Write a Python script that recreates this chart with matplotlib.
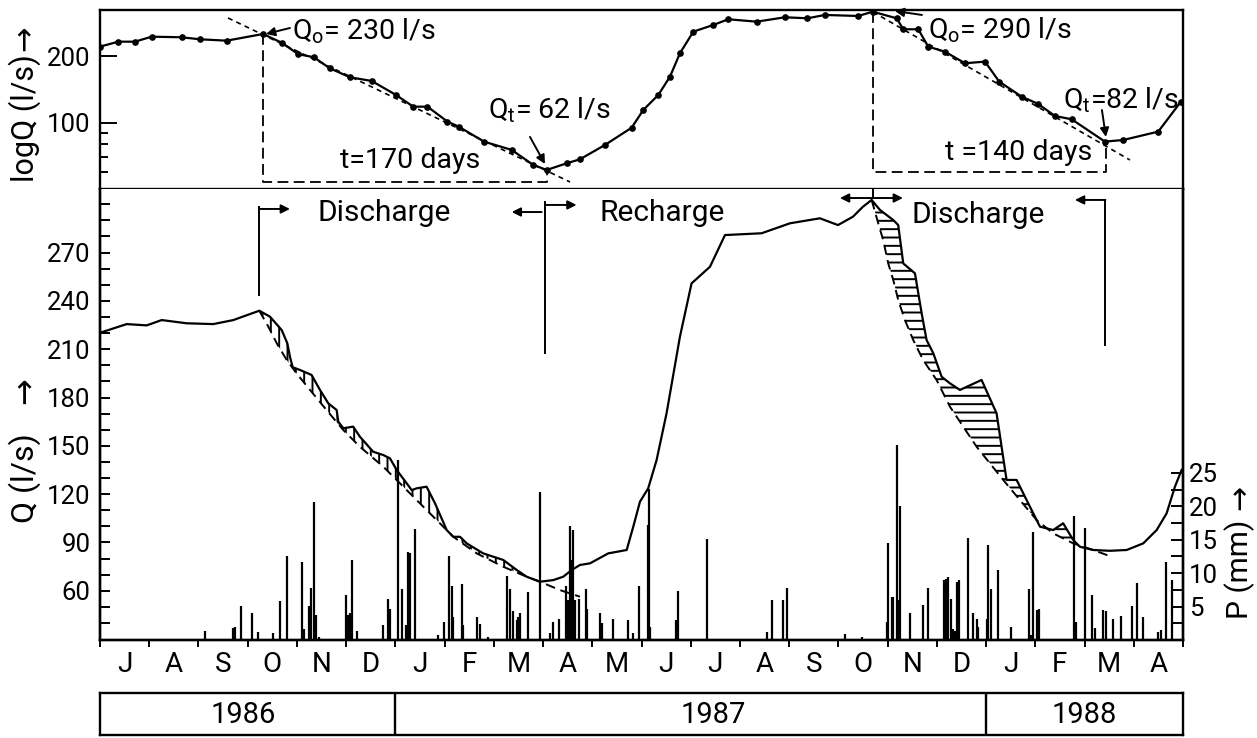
import numpy as np
import matplotlib
matplotlib.use("Agg")
import matplotlib.pyplot as plt
from matplotlib.ticker import FixedLocator, NullFormatter

plt.rcParams['font.family'] = ['Roboto', 'DejaVu Sans']
plt.rcParams['mathtext.fontset'] = 'custom'
plt.rcParams['mathtext.rm'] = 'Roboto'
plt.rcParams['mathtext.it'] = 'Roboto'
plt.rcParams['hatch.linewidth'] = 1.4

# ---------------- data (x = months since 1 July 1986) ----------------
month_labels = ['J', 'A', 'S', 'O', 'N', 'D', 'J', 'F', 'M', 'A', 'M',
                'J', 'J', 'A', 'S', 'O', 'N', 'D', 'J', 'F', 'M', 'A']
years = ['1986', '1987', '1988']
year_bounds = [6, 18]
year_label_pos = [2.9, 12.45, 20.0]

# discharge Q (l/s), linear panel
q_m = [0.000, 0.542, 0.949, 1.253, 1.761, 2.301, 2.708, 3.236, 3.453, 3.691,
       3.805, 3.859, 3.914, 4.063, 4.298, 4.469, 4.637, 4.808, 4.841, 4.942,
       5.143, 5.281, 5.550, 5.753, 5.891, 6.027, 6.230, 6.332, 6.433, 6.634,
       6.805, 7.043, 7.176, 7.313, 7.449, 7.784, 8.192, 8.464, 8.668, 8.938,
       9.206, 9.411, 9.582, 9.750, 9.953, 10.325, 10.699, 10.833, 10.969, 11.136,
       11.307, 11.509, 11.781, 12.017, 12.391, 12.696, 13.439, 14.016, 14.625, 14.991,
       15.296, 15.499, 15.675, 15.844, 16.114, 16.215, 16.317, 16.555, 16.691, 16.791,
       16.927, 17.097, 17.266, 17.469, 17.908, 18.213, 18.416, 18.620, 18.823, 19.094,
       19.364, 19.565, 19.770, 19.906, 20.176, 20.515, 20.855, 21.192, 21.465, 21.668,
       21.836, 21.972]
q_val = [220.2, 225.6, 224.8, 228.1, 226.1, 225.6, 228.1, 233.9, 230.2, 221.9,
         213.7, 205.3, 198.8, 197.1, 194.0, 184.7, 176.4, 172.2, 165.0, 160.9,
         161.9, 155.6, 146.3, 144.3, 142.2, 135.0, 126.7, 122.5, 123.6, 124.6,
         114.3, 97.7, 93.5, 93.5, 89.4, 83.2, 79.1, 72.9, 68.7, 65.6,
         66.6, 68.7, 72.9, 76.0, 77.0, 83.2, 85.3, 99.8, 115.3, 123.6,
         141.2, 170.2, 217.8, 250.9, 261.2, 280.9, 282.0, 288.2, 291.3, 287.1,
         292.3, 298.5, 302.7, 296.5, 290.2, 287.1, 263.3, 257.1, 232.3, 215.7,
         207.5, 192.9, 188.8, 184.7, 190.9, 170.2, 128.8, 128.8, 116.3, 99.8,
         97.7, 101.9, 91.5, 87.3, 85.3, 84.8, 85.3, 89.4, 97.7, 108.1,
         124.6, 135.0]

# recession curves (dashed) in the Q panel
rec1_m = [3.236, 3.419, 3.590, 3.793, 3.993, 4.266, 4.603, 4.942, 5.281, 5.755,
          6.094, 6.433, 6.839, 7.177, 7.652, 8.192, 8.665, 8.938, 9.344, 9.750]
rec1_q = [233.9, 224.0, 213.7, 203.3, 195.0, 184.7, 172.2, 159.8, 149.4, 137.0,
          126.7, 116.3, 103.9, 93.5, 83.2, 74.9, 68.7, 65.6, 60.4, 56.3]
rec2_m = [15.675, 15.809, 15.910, 16.012, 16.114, 16.215, 16.351, 16.520, 16.721, 16.994,
          17.266, 17.536, 17.808, 18.078, 18.348, 18.688, 19.027, 19.364, 19.770, 20.175,
          20.549]
rec2_q = [302.7, 288.2, 277.8, 263.3, 253.0, 240.6, 228.1, 215.7, 203.3, 190.9,
          174.3, 161.9, 149.4, 139.1, 128.8, 116.3, 103.9, 95.6, 89.4, 85.3,
          81.1]

# log Q panel (points with dots)
log_m = [0.000, 0.372, 0.711, 1.050, 1.660, 2.031, 2.574, 3.311, 3.691, 4.028,
         4.347, 4.666, 5.078, 5.519, 6.013, 6.364, 6.652, 7.059, 7.288, 7.800,
         8.363, 8.801, 9.074, 9.480, 9.750, 10.258, 10.800, 11.036, 11.341, 11.578,
         11.781, 12.052, 12.458, 12.763, 13.339, 13.914, 14.371, 14.727, 15.403, 15.696,
         16.183, 16.317, 16.622, 16.825, 17.164, 17.571, 17.977, 18.267, 18.722, 19.059,
         19.398, 19.738, 20.414, 20.786, 21.497, 21.957]
log_q = [220.7, 232.4, 232.4, 244.8, 243.2, 238.2, 234.8, 251.7, 229.9, 204.1,
         197.7, 176.4, 160.6, 154.6, 133.7, 118.4, 118.4, 101.4, 96.2, 82.4,
         75.6, 64.7, 61.4, 65.8, 68.6, 79.6, 95.2, 114.4, 133.7, 161.6,
         206.1, 257.8, 276.4, 293.2, 286.0, 299.3, 296.2, 306.6, 303.4, 317.2,
         296.2, 264.3, 264.3, 220.7, 209.5, 185.8, 188.9, 153.5, 131.4, 121.8,
         107.5, 103.9, 82.4, 83.8, 91.4, 124.7]

# daily precipitation P (mm)
p_m = [2.133, 2.696, 2.742, 2.858, 3.094, 3.216, 3.508, 3.656, 3.805, 4.095,
       4.144, 4.252, 4.280, 4.351, 4.380, 4.449, 4.997, 5.038, 5.078, 5.111,
       5.214, 5.755, 5.856, 5.891, 6.047, 6.126, 6.210, 6.260, 6.295, 6.398,
       6.872, 6.987, 7.089, 7.142, 7.176, 7.347, 7.380, 7.652, 7.719, 7.888,
       8.261, 8.328, 8.395, 8.463, 8.496, 8.531, 8.700, 8.938, 9.141, 9.194,
       9.328, 9.458, 9.510, 9.547, 9.580, 9.602, 9.650, 9.734, 9.864, 9.898,
       10.157, 10.190, 10.425, 10.717, 10.820, 10.953, 11.123, 11.156, 11.180, 11.700,
       11.733, 12.336, 13.541, 13.643, 13.879, 13.947, 15.133, 15.470, 15.992, 16.012,
       16.080, 16.110, 16.182, 16.215, 16.249, 16.453, 16.723, 16.825, 17.144, 17.176,
       17.217, 17.278, 17.320, 17.370, 17.413, 17.448, 17.625, 17.738, 17.807, 17.840,
       18.011, 18.042, 18.090, 18.247, 18.498, 18.877, 18.920, 18.955, 19.025, 19.078,
       19.784, 19.825, 20.008, 20.143, 20.211, 20.367, 20.430, 20.583, 20.733, 20.956,
       21.057, 21.179, 21.496, 21.560, 21.663, 21.785]
p_mm = [1.4, 1.8, 2.0, 5.1, 4.0, 1.2, 1.0, 5.8, 12.6, 11.7,
        1.6, 5.1, 7.8, 20.6, 3.7, 0.4, 6.7, 3.7, 4.0, 11.9,
        1.4, 2.2, 6.2, 4.7, 26.9, 7.7, 2.2, 13.1, 13.0, 16.6,
        0.7, 2.7, 12.6, 8.1, 3.5, 8.4, 2.2, 3.4, 2.4, 0.5,
        9.6, 7.6, 4.4, 3.0, 3.5, 4.0, 7.2, 22.1, 1.0, 2.7,
        3.1, 8.1, 6.0, 17.1, 12.0, 16.5, 6.0, 6.2, 7.7, 4.7,
        4.0, 2.5, 3.1, 3.0, 1.1, 8.1, 17.2, 22.6, 2.0, 3.0,
        7.3, 15.1, 1.2, 6.0, 6.0, 7.8, 0.9, 0.4, 2.7, 14.5,
        6.5, 6.5, 29.2, 6.0, 20.1, 4.0, 5.3, 7.8, 9.0, 9.2,
        9.4, 6.2, 1.6, 1.4, 8.7, 9.0, 15.2, 4.0, 3.1, 2.0,
        3.2, 14.2, 7.6, 10.5, 2.0, 7.7, 0.7, 16.1, 4.5, 4.6,
        18.6, 2.7, 16.7, 6.7, 1.8, 4.5, 4.4, 3.1, 3.6, 5.1,
        8.6, 3.5, 1.2, 1.5, 11.6, 9.0]

q_ticks = [60, 90, 120, 150, 180, 210, 240, 270]
p_ticks = [5, 10, 15, 20, 25]

# ---------------- figure ----------------
W_PX, H_PX = 1257, 738
fig = plt.figure(figsize=(W_PX / 100, H_PX / 100), dpi=100)

def fy(ypx):
    return 1 - ypx / H_PX

L = 100 / W_PX
R = 1183 / W_PX
WID = R - L
ax_top = fig.add_axes([L, fy(189), WID, fy(10) - fy(189)])
ax = fig.add_axes([L, fy(640), WID, fy(189) - fy(640)])
axp = ax.twinx()
ax_year = fig.add_axes([L, fy(735), WID, fy(693) - fy(735)])

SP_LW = 1.7
TXT = 20.5
TICKFS = 18.5
LINE_LW = 1.6

# ---------- top (log) panel ----------
ax_top.set_yscale('log')
ax_top.set_xlim(0, 22)
ax_top.set_ylim(50.4, 322.8)
ax_top.plot(log_m, log_q, color='k', lw=LINE_LW, marker='o', ms=3.8)
ax_top.yaxis.set_major_locator(FixedLocator([100, 200]))
ax_top.set_yticklabels(['100', '200'])
ax_top.yaxis.set_minor_locator(FixedLocator([60, 70, 80, 90]))
ax_top.yaxis.set_minor_formatter(NullFormatter())
ax_top.tick_params(axis='y', which='major', direction='in', length=12, width=1.4,
                   labelsize=TICKFS, pad=7)
ax_top.tick_params(axis='y', which='minor', direction='in', length=6, width=1.4)
ax_top.set_xticks([])
for s in ax_top.spines.values():
    s.set_linewidth(SP_LW)

dash_s = (0, (3, 2.5))
dash_l = (0, (6, 3))
ax_top.plot([2.600, 9.547], [297.2, 54.2], color='k', lw=1.2, ls=dash_s)
ax_top.plot([15.702, 20.922], [316.2, 68.1], color='k', lw=1.2, ls=dash_s)
ax_top.plot([3.311, 3.311, 9.074, 9.074], [251.7, 54.2, 54.2, 61.4],
            color='k', lw=1.3, ls=dash_l)
ax_top.plot([15.696, 15.696, 20.434, 20.434], [317.2, 60.2, 60.2, 82.4],
            color='k', lw=1.3, ls=dash_l)

arrow_kw = dict(arrowstyle='-|>', color='k', lw=1.4, mutation_scale=13,
                shrinkA=0, shrinkB=0)
ax_top.text(3.90, 236.5, r'Q$_\mathregular{o}$= 230 l/s', fontsize=TXT, va='baseline')
ax_top.annotate('', xy=(3.372, 251.7), xytext=(3.859, 267.9), arrowprops=arrow_kw)
ax_top.text(4.875, 62.7, 't=170 days', fontsize=TXT, va='baseline')
ax_top.text(7.881, 105.0, r'Q$_\mathregular{t}$= 62 l/s', fontsize=TXT, va='baseline')
ax_top.annotate('', xy=(9.039, 65.3), xytext=(8.735, 86.5), arrowprops=arrow_kw)
ax_top.text(16.819, 240.8, r'Q$_\mathregular{o}$= 290 l/s', fontsize=TXT, va='baseline')
ax_top.annotate('', xy=(16.149, 319.5), xytext=(16.697, 306.6), arrowprops=arrow_kw)
ax_top.text(19.561, 116.5, r'Q$_\mathregular{t}$=82 l/s', fontsize=TXT, va='baseline')
ax_top.annotate('', xy=(20.434, 86.5), xytext=(20.353, 114.4), arrowprops=arrow_kw)
ax_top.text(17.164, 68.1, 't =140 days', fontsize=TXT, va='baseline')

# ---------- bottom (linear Q) panel ----------
ax.set_xlim(0, 22)
ax.set_ylim(29.4, 309.5)
qm = np.array(q_m)
qv = np.array(q_val)
r1m, r1q = np.array(rec1_m), np.array(rec1_q)
r2m, r2q = np.array(rec2_m), np.array(rec2_q)

# hatched areas between hydrograph and recession curve
s1 = (qm >= r1m[0]) & (qm <= 8.938)
d1 = r1m <= 8.938
ax.fill(np.concatenate([qm[s1], r1m[d1][::-1]]), np.concatenate([qv[s1], r1q[d1][::-1]]),
        facecolor='none', edgecolor='k', hatch='||', lw=0)
s2 = (qm >= r2m[0]) & (qm <= 20.176)
d2 = r2m <= 20.176
ax.fill(np.concatenate([qm[s2], r2m[d2][::-1]]), np.concatenate([qv[s2], r2q[d2][::-1]]),
        facecolor='none', edgecolor='k', hatch='--', lw=0)

ax.plot(qm, qv, color='k', lw=LINE_LW)
ax.plot(r1m, r1q, color='k', lw=1.4, ls=(0, (5, 3)))
ax.plot(r2m, r2q, color='k', lw=1.4, ls=(0, (5, 3)))

ax.set_yticks(q_ticks)
ax.set_yticklabels([str(t) for t in q_ticks])
ax.set_yticks(list(range(40, 310, 10)), minor=True)
ax.tick_params(axis='y', which='both', direction='in', length=7, width=1.4,
               labelsize=TICKFS, pad=7)
ax.set_xticks(range(0, 23))
ax.set_xticklabels([])
ax.set_xticks(np.arange(0.5, 22, 1.0), minor=True)
ax.set_xticklabels(month_labels, minor=True)
ax.tick_params(axis='x', which='major', direction='out', length=5, width=1.4)
ax.tick_params(axis='x', which='minor', length=0, labelsize=20, pad=8)
for s in ax.spines.values():
    s.set_linewidth(SP_LW)
ax.spines['top'].set_visible(False)

# precipitation bars on right axis
axp.set_ylim(0, 67.5)
axp.vlines(p_m, 0, p_mm, color='k', lw=1.6)
axp.set_yticks(p_ticks)
axp.set_yticklabels([str(t) for t in p_ticks])
axp.set_yticks(np.arange(0, 27.5, 2.5), minor=True)
axp.tick_params(axis='y', which='both', direction='in', length=9, width=1.4,
                labelsize=TICKFS, pad=4)
for s in axp.spines.values():
    s.set_linewidth(SP_LW)
axp.spines['top'].set_visible(False)

# Discharge / recharge markers
lk = dict(color='k', lw=1.4)
ax.plot([3.236, 3.236], [243.7, 298.5], **lk)
ax.annotate('', xy=(3.859, 297.1), xytext=(3.236, 297.1), arrowprops=arrow_kw)
ax.plot([9.039, 9.039], [207.4, 301.4], **lk)
ax.annotate('', xy=(8.363, 295.2), xytext=(8.972, 295.2), arrowprops=arrow_kw)
ax.annotate('', xy=(9.681, 299.6), xytext=(9.039, 299.6), arrowprops=arrow_kw)
ax.plot([15.696, 15.696], [303.9, 309.5], **lk)
ax.annotate('', xy=(15.031, 303.9), xytext=(15.696, 303.9), arrowprops=arrow_kw)
ax.annotate('', xy=(16.311, 303.9), xytext=(15.696, 303.9), arrowprops=arrow_kw)
ax.plot([20.424, 20.424], [212.6, 302.7], **lk)
ax.annotate('', xy=(19.805, 302.7), xytext=(20.424, 302.7), arrowprops=arrow_kw)

ax.text(5.78, 294.6, 'Discharge', fontsize=21.5, ha='center', va='center')
ax.text(11.42, 294.6, 'Recharge', fontsize=21.5, ha='center', va='center')
ax.text(17.84, 293.3, 'Discharge', fontsize=21.5, ha='center', va='center')

# ---------- year bar ----------
ax_year.set_xlim(0, 22)
ax_year.set_ylim(0, 1)
ax_year.set_xticks([])
ax_year.set_yticks([])
for b in year_bounds:
    ax_year.axvline(b, color='k', lw=SP_LW)
for pos, yr in zip(year_label_pos, years):
    ax_year.text(pos, 0.47, yr, fontsize=21, ha='center', va='center')
for s in ax_year.spines.values():
    s.set_linewidth(SP_LW)

# ---------- axis titles ----------
fig.text(25 / W_PX, fy(118), 'logQ (l/s)', rotation=90, fontsize=22,
         ha='center', va='center')
fig.text(25 / W_PX, fy(38), '→', rotation=90, fontsize=22, ha='center', va='center')
fig.text(25 / W_PX, fy(478), 'Q (l/s)', rotation=90, fontsize=23,
         ha='center', va='center')
fig.text(25 / W_PX, fy(391), '→', rotation=90, fontsize=23, ha='center', va='center')
fig.text(1240 / W_PX, fy(569), 'P (mm)', rotation=90, fontsize=21.5,
         ha='center', va='center')
fig.text(1240 / W_PX, fy(498), '→', rotation=90, fontsize=21.5, ha='center', va='center')

fig.savefig('out.png', dpi=100)
